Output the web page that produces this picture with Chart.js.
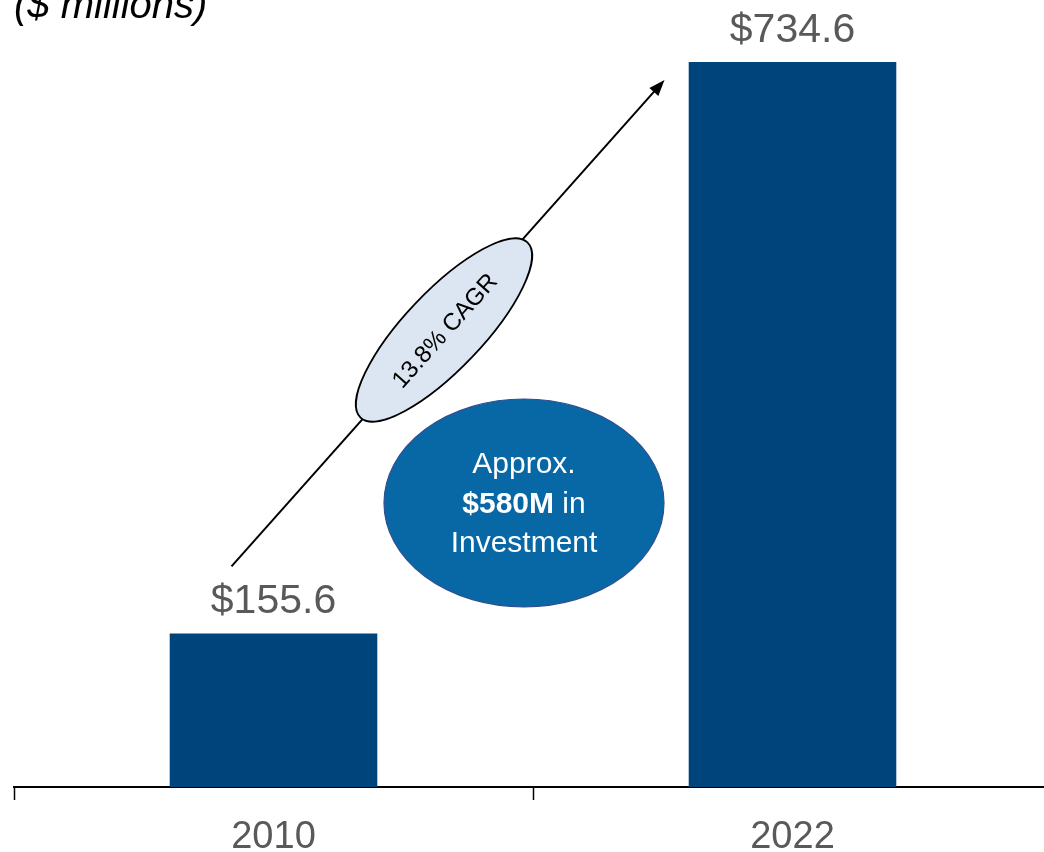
<!DOCTYPE html>
<html>
<head>
<meta charset="utf-8">
<script src="https://cdn.jsdelivr.net/npm/chart.js@4/dist/chart.umd.min.js"></script>
<style>
  html, body { margin: 0; padding: 0; background: #fff; overflow: hidden; }
  #wrap { position: relative; width: 1044px; height: 852px; overflow: hidden; }
  canvas { position: absolute; left: 0; top: 0; }
</style>
</head>
<body>
<div id="wrap"><canvas id="grafico" width="1066" height="852"></canvas></div>
<script>
// datos del gráfico
const categorias = ['2010', '2022'];
const valores = [155.6, 734.6];
const etiquetas = ['$155.6', '$734.6'];

const colorBarra = '#00447C';
const colorTexto = '#595959';

// etiquetas de valor, flecha y burbujas
const anotaciones = {
    id: 'anotaciones',
    afterDraw(chart) {
        const ctx = chart.ctx;
        const barras = chart.getDatasetMeta(0).data;
        const x = chart.scales.x;
        const y = chart.scales.y;

        ctx.save();

        // subtítulo
        ctx.fillStyle = '#000';
        ctx.font = 'italic 40px "Liberation Sans", Arial, sans-serif';
        ctx.textAlign = 'left';
        ctx.textBaseline = 'alphabetic';
        ctx.fillText('($ millions)', 14, 18);

        // valores sobre las barras
        ctx.fillStyle = colorTexto;
        ctx.font = '41px "Liberation Sans", Arial, sans-serif';
        ctx.textAlign = 'center';
        barras.forEach((b, i) => {
            ctx.fillText(etiquetas[i], b.x, b.y - 20);
        });

        // flecha
        const x0 = x.getPixelForValue(0) - 42, y0 = y.getPixelForValue(valores[0]) - 67;
        const x1 = x.getPixelForValue(1) - 128, y1 = y.getPixelForValue(valores[1]) + 18;
        const ang = Math.atan2(y1 - y0, x1 - x0);
        ctx.strokeStyle = '#000';
        ctx.lineWidth = 2;
        ctx.beginPath();
        ctx.moveTo(x0, y0);
        ctx.lineTo(x1 - 10 * Math.cos(ang), y1 - 10 * Math.sin(ang));
        ctx.stroke();
        ctx.fillStyle = '#000';
        ctx.beginPath();
        ctx.moveTo(x1, y1);
        ctx.lineTo(x1 - 16 * Math.cos(ang) + 6 * Math.sin(ang), y1 - 16 * Math.sin(ang) - 6 * Math.cos(ang));
        ctx.lineTo(x1 - 16 * Math.cos(ang) - 6 * Math.sin(ang), y1 - 16 * Math.sin(ang) + 6 * Math.cos(ang));
        ctx.closePath();
        ctx.fill();

        // elipse CAGR
        const cx = 444, cy = 330, rot = -0.81;
        ctx.beginPath();
        ctx.ellipse(cx, cy, 121, 39, rot, 0, Math.PI * 2);
        ctx.fillStyle = '#DCE6F2';
        ctx.fill();
        ctx.lineWidth = 1.8;
        ctx.strokeStyle = '#000';
        ctx.stroke();
        ctx.save();
        ctx.translate(cx, cy);
        ctx.rotate(-0.84);
        ctx.fillStyle = '#000';
        ctx.font = '24px "Liberation Sans", Arial, sans-serif';
        ctx.textAlign = 'center';
        ctx.textBaseline = 'middle';
        ctx.fillText('13.8% CAGR', 0, 2);
        ctx.restore();

        // burbuja de inversión
        const bx = 524, by = 503;
        ctx.beginPath();
        ctx.ellipse(bx, by, 140, 104, 0, 0, Math.PI * 2);
        ctx.fillStyle = '#0868A6';
        ctx.fill();
        ctx.lineWidth = 1.2;
        ctx.strokeStyle = '#2F4F8F';
        ctx.stroke();

        ctx.fillStyle = '#fff';
        ctx.textBaseline = 'middle';
        ctx.textAlign = 'center';
        ctx.font = '30px "Liberation Sans", Arial, sans-serif';
        ctx.fillText('Approx.', bx, 465);
        // línea con parte en negrita
        const negrita = 'bold 30px "Liberation Sans", Arial, sans-serif';
        const normal = '30px "Liberation Sans", Arial, sans-serif';
        ctx.font = negrita;
        const w1 = ctx.measureText('$580M').width;
        ctx.font = normal;
        const w2 = ctx.measureText(' in').width;
        const inicio = bx - (w1 + w2) / 2;
        ctx.textAlign = 'left';
        ctx.font = negrita;
        ctx.fillText('$580M', inicio, 505);
        ctx.font = normal;
        ctx.fillText(' in', inicio + w1, 505);
        ctx.textAlign = 'center';
        ctx.fillText('Investment', bx, 544);

        ctx.restore();
    }
};

new Chart(document.getElementById('grafico'), {
    type: 'bar',
    data: {
        labels: categorias,
        datasets: [{
            data: valores,
            backgroundColor: colorBarra,
            barPercentage: 0.5,
            categoryPercentage: 0.8
        }]
    },
    options: {
        responsive: false,
        animation: false,
        layout: { padding: { left: 14, right: 14, top: 0, bottom: 0 } },
        plugins: {
            legend: { display: false },
            tooltip: { enabled: false }
        },
        scales: {
            y: {
                display: false,
                min: 0,
                max: 797.4
            },
            x: {
                grid: {
                    offset: true,
                    drawOnChartArea: false,
                    drawTicks: true,
                    tickLength: 13,
                    tickWidth: 1.5,
                    tickColor: '#000'
                },
                border: { display: true, color: '#000', width: 2 },
                ticks: {
                    color: colorTexto,
                    font: { size: 38, family: '"Liberation Sans", Arial, sans-serif' },
                    padding: 15
                },
                afterFit(scale) { scale.height = 65; }
            }
        }
    },
    plugins: [anotaciones]
});
</script>
</body>
</html>
